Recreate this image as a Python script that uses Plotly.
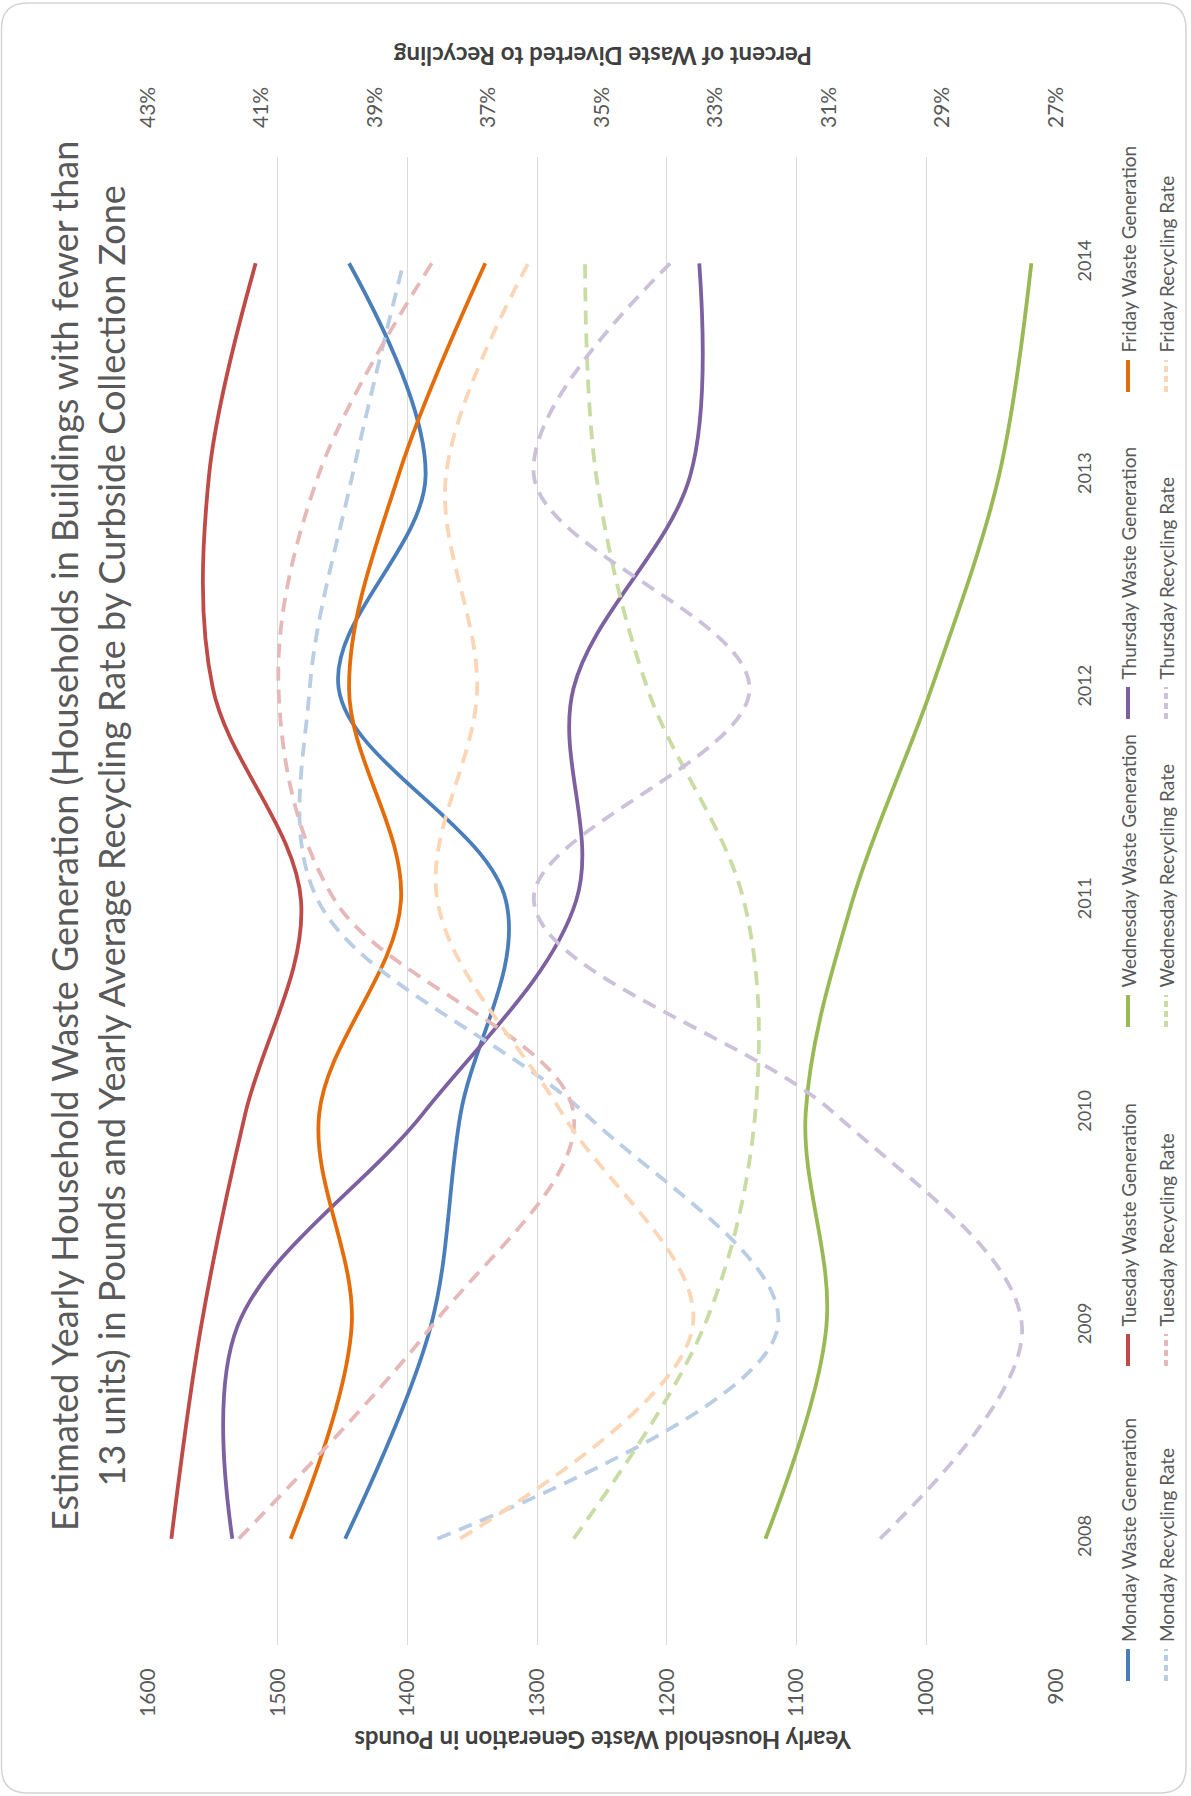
import plotly.graph_objects as go

# Canvas and plot-area geometry (pixels)
W, H = 1191, 1796
ML, MR, MT, MB = 148, 135, 157, 151

years = [2008, 2009, 2010, 2011, 2012, 2013, 2014]

# Yearly household waste generation, pounds
monday_waste = [1448, 1382, 1359, 1324, 1453, 1386, 1445]
tuesday_waste = [1582, 1559, 1525, 1482, 1550, 1553, 1517]
wednesday_waste = [1124, 1077, 1093, 1057, 996, 944, 919]
thursday_waste = [1535, 1531, 1388, 1270, 1272, 1182, 1175]
friday_waste = [1490, 1443, 1468, 1405, 1445, 1407, 1340]

# Yearly average recycling rate, percent
monday_rate = [37.9, 31.9, 35.3, 40.0, 40.15, 39.4, 38.5]
tuesday_rate = [41.4, 38.0, 35.5, 39.7, 40.7, 40.0, 38.0]
wednesday_rate = [35.5, 33.2, 32.3, 32.5, 34.2, 35.1, 35.3]
thursday_rate = [30.1, 27.6, 30.9, 36.2, 32.4, 36.2, 33.8]
friday_rate = [37.5, 33.4, 35.7, 37.9, 37.2, 37.75, 36.3]

days = ["Monday", "Tuesday", "Wednesday", "Thursday", "Friday"]
waste = [monday_waste, tuesday_waste, wednesday_waste, thursday_waste, friday_waste]
rates = [monday_rate, tuesday_rate, wednesday_rate, thursday_rate, friday_rate]
dark = ["#4A7EBB", "#BE4B48", "#98B954", "#7D60A0", "#E46C0A"]
light = ["#B9CDE5", "#E6B9B8", "#C9DCA3", "#CCC1DA", "#FCD5B5"]

pound_ticks = [1600, 1500, 1400, 1300, 1200, 1100, 1000, 900]
pct_ticks = [43, 41, 39, 37, 35, 33, 31, 29, 27]

FONT = "Lato"
GREY = "#595959"
DASH = "14px,9px"
LW = 3.8

PW = W - ML - MR
PH = H - MT - MB


def px(x):
    return (x - ML) / PW


def py(y):
    return 1 - (y - MT) / PH


fig = go.Figure()

for i, d in enumerate(days):
    fig.add_trace(go.Scatter(
        x=waste[i], y=years, name=f"{d} Waste Generation", xaxis="x", yaxis="y",
        mode="lines", line=dict(color=dark[i], width=LW, shape="spline", smoothing=1.0),
        showlegend=False))
    fig.add_trace(go.Scatter(
        x=rates[i], y=years, name=f"{d} Recycling Rate", xaxis="x2", yaxis="y",
        mode="lines", line=dict(color=light[i], width=LW, dash=DASH, shape="spline", smoothing=1.0),
        showlegend=False))

shapes = []
annotations = []

# Card outline with rounded corners
r = 26
x0, y0, x1, y1 = 1.5, 3, 1186, 1793
path_pts = (
    f"M {px(x0 + r)},{py(y0)} L {px(x1 - r)},{py(y0)} "
    f"Q {px(x1)},{py(y0)} {px(x1)},{py(y0 + r)} L {px(x1)},{py(y1 - r)} "
    f"Q {px(x1)},{py(y1)} {px(x1 - r)},{py(y1)} L {px(x0 + r)},{py(y1)} "
    f"Q {px(x0)},{py(y1)} {px(x0)},{py(y1 - r)} L {px(x0)},{py(y0 + r)} "
    f"Q {px(x0)},{py(y0)} {px(x0 + r)},{py(y0)} Z"
)
shapes.append(dict(type="path", xref="paper", yref="paper", path=path_pts,
                   line=dict(color="#d4d4d4", width=1.5), fillcolor="rgba(0,0,0,0)", layer="below"))

# Legend: two columns, entries stacked bottom-to-top, text reading upward
sym_start = [1681, 1366, 1027, 719, 392]
col_x = [1128, 1166]
SYM_LEN = 32
for i, d in enumerate(days):
    for c, (label, color) in enumerate([
        (f"{d} Waste Generation", dark[i]),
        (f"{d} Recycling Rate", light[i]),
    ]):
        xs = col_x[c]
        shapes.append(dict(type="line", xref="paper", yref="paper",
                           x0=px(xs), x1=px(xs), y0=py(sym_start[i]), y1=py(sym_start[i] - SYM_LEN),
                           line=dict(color=color, width=4,
                                     dash="solid" if c == 0 else "6px,4px")))
        annotations.append(dict(text=label, xref="paper", yref="paper",
                                x=px(xs), y=py(sym_start[i] - SYM_LEN - 5),
                                xanchor="center", yanchor="bottom", textangle=-90, showarrow=False,
                                font=dict(family=FONT, size=19, color=GREY)))

# Chart title, rotated to run up the left edge
annotations.append(dict(
    text="Estimated Yearly Household Waste Generation (Households in Buildings with fewer than<br>"
         "13 units) in Pounds and Yearly Average Recycling Rate by Curbside Collection Zone",
    xref="paper", yref="paper", x=px(87), y=py(836), xanchor="center", yanchor="middle",
    textangle=-90, showarrow=False, align="center",
    font=dict(family=FONT, size=36, color=GREY)))

# Axis titles
annotations.append(dict(
    text="<b>Yearly Household Waste Generation in Pounds</b>", xref="paper", yref="paper",
    x=px(603), y=py(1741), xanchor="center", yanchor="middle", textangle=180, showarrow=False,
    font=dict(family=FONT, size=24, color="#404040")))
annotations.append(dict(
    text="<b>Percent of Waste Diverted to Recycling</b>", xref="paper", yref="paper",
    x=px(603), y=py(57), xanchor="center", yanchor="middle", textangle=180, showarrow=False,
    font=dict(family=FONT, size=24, color="#404040")))

fig.update_layout(
    width=W, height=H,
    margin=dict(l=ML, r=MR, t=MT, b=MB, pad=0),
    paper_bgcolor="white", plot_bgcolor="white",
    showlegend=False,
    xaxis=dict(range=[1600, 900], tickvals=pound_ticks, ticktext=[str(v) for v in pound_ticks],
               showgrid=True, gridcolor="#d9d9d9", gridwidth=1, zeroline=False, showline=False,
               tickangle=-90, ticks="", ticklabelstandoff=18,
               tickfont=dict(family=FONT, size=21, color=GREY), side="bottom"),
    xaxis2=dict(range=[43, 27], tickvals=pct_ticks, ticktext=[f"{v}%" for v in pct_ticks],
                overlaying="x", side="top", showgrid=False, zeroline=False, showline=False,
                tickangle=-90, ticks="", ticklabelstandoff=28,
                tickfont=dict(family=FONT, size=21, color=GREY)),
    yaxis=dict(range=[2007.5, 2014.5], tickvals=years, ticktext=[str(y) for y in years],
               side="right", showgrid=False, zeroline=False, showline=False,
               tickangle=-90, ticks="", ticklabelstandoff=16,
               tickfont=dict(family=FONT, size=18, color=GREY)),
    shapes=shapes,
    annotations=annotations,
)

fig.write_html("out.html")
